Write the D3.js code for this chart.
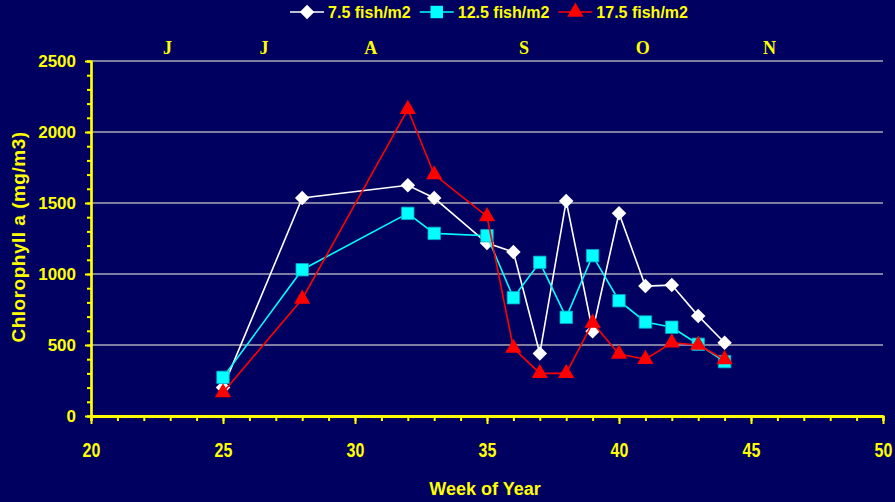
<!DOCTYPE html>
<html>
<head>
<meta charset="utf-8">
<script src="https://cdn.jsdelivr.net/npm/d3@7"></script>
<style>
    body { margin: 0; background: #000060; }
    svg { display: block; }
</style>
</head>
<body>
<svg id="drawing_region"></svg>
<script>
// week of year for each sample
const weeks = [25, 28, 32, 33, 35, 36, 37, 38, 39, 40, 41, 42, 43, 44];

// chlorophyll a (mg/m3) per stocking density
const fish75  = [200, 1535, 1625, 1535, 1218, 1155, 440, 1514, 597, 1428, 915, 922, 705, 516];
const fish125 = [272, 1030, 1427, 1286, 1270, 833, 1082, 695, 1129, 812, 662, 625, 505, 383];
const fish175 = [165, 824, 2160, 1700, 1405, 478, 300, 300, 655, 437, 400, 516, 500, 398];

const seriesNames = ["7.5 fish/m2", "12.5 fish/m2", "17.5 fish/m2"];

// month initials and the week where each one is printed
const months = ["J", "J", "A", "S", "O", "N"];
const monthWeeks = [22.9, 26.55, 30.6, 36.4, 40.9, 45.7];

const yTicks = [0, 500, 1000, 1500, 2000, 2500];
const xTicks = [20, 25, 30, 35, 40, 45, 50];

const series = [
    { name: seriesNames[0], values: fish75,  color: "#ffffff", stroke: "#ffffff", shape: "diamond" },
    { name: seriesNames[1], values: fish125, color: "#00ffff", stroke: "#00ffff", shape: "square" },
    { name: seriesNames[2], values: fish175, color: "#ff0000", stroke: "#ff0000", shape: "triangle" }
];

const config = {
    parent: '#drawing_region',
    width: 895,
    height: 502,
    margin: {top: 61, right: 12, bottom: 86, left: 91}
};

class LineChart {
    constructor(config, series) {
        this.config = config;
        this.series = series;
        this.init();
    }

    init() {
        const self = this;
        const cfg = self.config;

        self.svg = d3.select(cfg.parent)
            .attr("width", cfg.width)
            .attr("height", cfg.height);

        self.svg.append("rect")
            .attr("width", cfg.width)
            .attr("height", cfg.height)
            .attr("fill", "#000060");

        self.chart = self.svg.append("g")
            .attr("transform", `translate(${cfg.margin.left},${cfg.margin.top})`);

        self.inner_width  = cfg.width  - cfg.margin.left - cfg.margin.right;
        self.inner_height = cfg.height - cfg.margin.top  - cfg.margin.bottom;

        self.xscale = d3.scaleLinear().domain([20, 50]).range([0, self.inner_width]);
        self.yscale = d3.scaleLinear().domain([0, 2500]).range([self.inner_height, 0]);
    }

    render() {
        const self = this;
        const chart = self.chart;
        const yellow = "#ffff00";

        // gridlines
        chart.append("g")
            .selectAll("line")
            .data(yTicks.slice(1))
            .enter()
            .append("line")
            .attr("x1", 0)
            .attr("x2", self.inner_width)
            .attr("y1", d => self.yscale(d))
            .attr("y2", d => self.yscale(d))
            .attr("stroke", "#a8a8b8")
            .attr("stroke-width", 1.5);

        // minor ticks first so the major ones sit on top
        const yminor = chart.append("g")
            .call(d3.axisLeft(self.yscale).tickValues(d3.range(0, 2501, 100)).tickSize(4).tickFormat(""));
        const xminor = chart.append("g")
            .attr("transform", `translate(0,${self.inner_height})`)
            .call(d3.axisBottom(self.xscale).tickValues(d3.range(20, 51, 1)).tickSize(5).tickFormat(""));

        const yaxis = chart.append("g")
            .call(d3.axisLeft(self.yscale).tickValues(yTicks).tickFormat(d3.format("d"))
                .tickSize(6).tickSizeOuter(0).tickPadding(9));
        const xaxis = chart.append("g")
            .attr("transform", `translate(0,${self.inner_height})`)
            .call(d3.axisBottom(self.xscale).tickValues(xTicks).tickSize(8).tickSizeOuter(0).tickPadding(19));

        [yminor, xminor, yaxis, xaxis].forEach(g => {
            g.selectAll("line").attr("stroke", yellow).attr("stroke-width", 2);
            g.select(".domain").attr("stroke", yellow).attr("stroke-width", 2.2);
        });
        xaxis.select(".domain").attr("stroke-width", 3);

        yaxis.selectAll("text")
            .attr("fill", yellow)
            .style("font-family", "'Liberation Sans', Arial, sans-serif")
            .style("font-weight", "bold")
            .style("font-size", "17px");
        // week labels are drawn condensed
        xaxis.selectAll("text")
            .attr("fill", yellow)
            .attr("transform", "scale(0.8,1)")
            .style("font-family", "'Liberation Sans', Arial, sans-serif")
            .style("font-weight", "bold")
            .style("font-size", "20px");

        // lines and markers
        const line = d3.line()
            .x((d, i) => self.xscale(weeks[i]))
            .y(d => self.yscale(d));

        const symbols = {
            diamond: d3.symbol().type(d3.symbolSquare).size(105),
            square: d3.symbol().type(d3.symbolSquare).size(155),
            triangle: d3.symbol().type(d3.symbolTriangle).size(115)
        };

        self.series.forEach(s => {
            const g = chart.append("g");
            g.append("path")
                .datum(s.values)
                .attr("d", line)
                .attr("fill", "none")
                .attr("stroke", s.stroke)
                .attr("stroke-width", 1.6);

            g.selectAll("path.marker")
                .data(s.values)
                .enter()
                .append("path")
                .attr("class", "marker")
                .attr("d", symbols[s.shape])
                .attr("transform", (d, i) => {
                    const t = `translate(${self.xscale(weeks[i])},${self.yscale(d)})`;
                    return s.shape === "diamond" ? t + " rotate(45)" : t;
                })
                .attr("fill", s.color)
                .attr("stroke", s.shape === "square" ? "#00a8c8" : "none")
                .attr("stroke-width", 0.8);
        });

        // month initials above the plot
        chart.append("g")
            .selectAll("text")
            .data(months)
            .enter()
            .append("text")
            .attr("x", (d, i) => self.xscale(monthWeeks[i]))
            .attr("y", -7)
            .attr("text-anchor", "middle")
            .attr("fill", yellow)
            .style("font-family", "'Liberation Serif', 'Times New Roman', serif")
            .style("font-weight", "bold")
            .style("font-size", "18px")
            .text(d => d);

        // axis titles
        self.svg.append("text")
            .attr("x", cfg_center(self))
            .attr("y", 495)
            .attr("text-anchor", "middle")
            .attr("fill", yellow)
            .style("font-family", "'Liberation Sans', Arial, sans-serif")
            .style("font-weight", "bold")
            .style("font-size", "18px")
            .text("Week of Year");

        self.svg.append("text")
            .attr("transform", "translate(18,237) rotate(-90)")
            .attr("dy", "0.35em")
            .attr("text-anchor", "middle")
            .attr("fill", yellow)
            .style("font-family", "'Liberation Sans', Arial, sans-serif")
            .style("font-weight", "bold")
            .style("font-size", "19px")
            .style("letter-spacing", "0.5px")
            .text("Chlorophyll a (mg/m3)");

        // legend
        const legend = self.svg.append("g");
        const items = [];
        self.series.forEach(s => {
            const item = legend.append("g");
            item.append("line")
                .attr("x1", 0).attr("x2", 34)
                .attr("y1", 0).attr("y2", 0)
                .attr("stroke", s.stroke)
                .attr("stroke-width", 1.6);
            item.append("path")
                .attr("d", symbols[s.shape])
                .attr("transform", s.shape === "diamond" ? "translate(17,0) rotate(45)" : "translate(17,0)")
                .attr("fill", s.color);
            const t = item.append("text")
                .attr("x", 38)
                .attr("dy", "0.36em")
                .attr("fill", yellow)
                .style("font-family", "'Liberation Sans', Arial, sans-serif")
                .style("font-weight", "bold")
                .style("font-size", "16px")
                .text(s.name);
            items.push({ g: item, w: 38 + t.node().getComputedTextLength() });
        });
        const gap = 9;
        const total = d3.sum(items, d => d.w) + gap * (items.length - 1);
        let x = 489 - total / 2;
        items.forEach(d => {
            d.g.attr("transform", `translate(${x},12)`);
            x += d.w + gap;
        });
    }
}

function cfg_center(self) {
    return self.config.margin.left + self.inner_width / 2 - 2;
}

const line_chart = new LineChart(config, series);
line_chart.render();
</script>
</body>
</html>
